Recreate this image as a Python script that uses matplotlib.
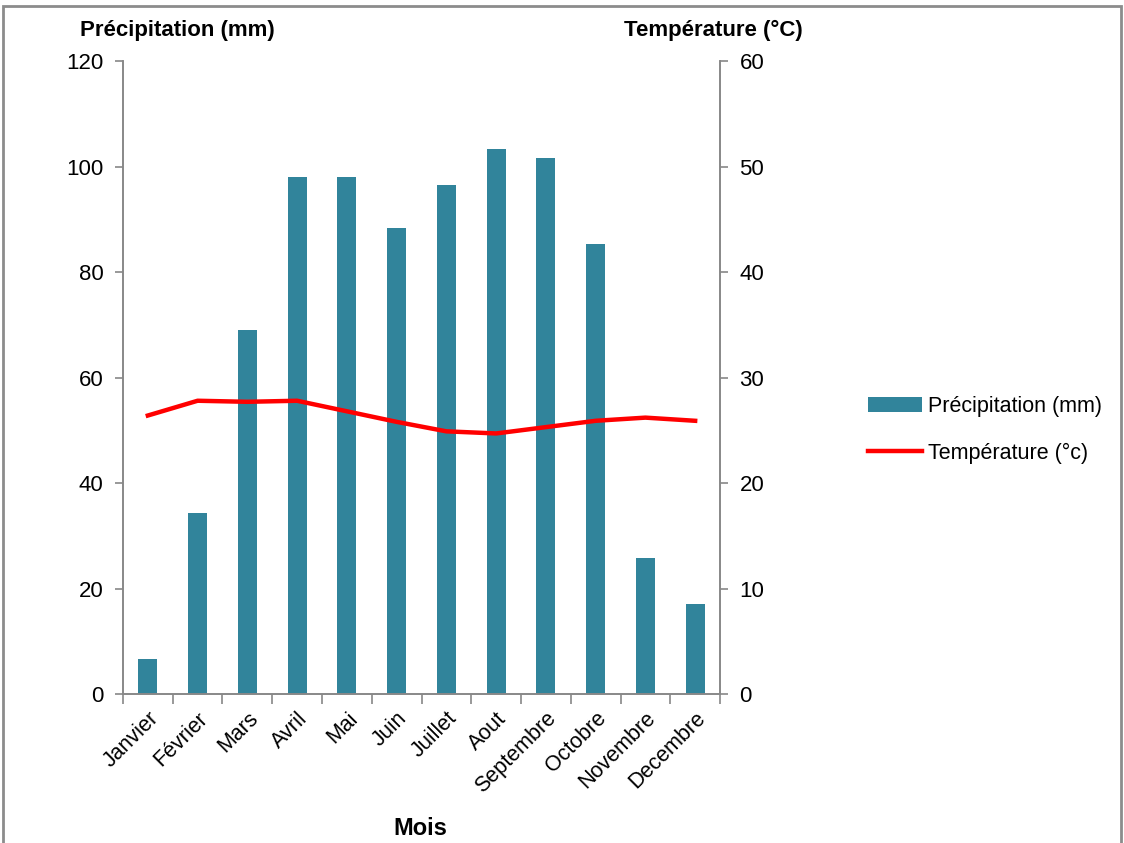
import matplotlib
matplotlib.use("Agg")
import matplotlib.pyplot as plt
from matplotlib.patches import Rectangle
from matplotlib.ticker import FixedLocator, NullFormatter

# data
mois = ['Janvier', 'Février', 'Mars', 'Avril', 'Mai', 'Juin', 'Juillet',
        'Aout', 'Septembre', 'Octobre', 'Novembre', 'Decembre']
precipitation = [6.6, 34.3, 69.0, 98.1, 98.1, 88.4, 96.5, 103.4, 101.6, 85.3, 25.8, 17.1]
temperature = [26.4, 27.8, 27.7, 27.8, 26.8, 25.8, 24.9, 24.7, 25.3, 25.9, 26.2, 25.9]

plt.rcParams['font.family'] = ['Liberation Sans', 'DejaVu Sans']
narrow = ['Liberation Sans Narrow', 'Liberation Sans', 'DejaVu Sans']

bar_color = '#31849B'
axis_gray = '#888888'

fig = plt.figure(figsize=(11.24, 8.43), dpi=100)
ax = fig.add_axes([0.1094, 0.1767, 0.5312, 0.7509])
ax2 = ax.twinx()

x = list(range(len(mois)))
bars = ax.bar(x, precipitation, width=0.38, color=bar_color, label='Précipitation (mm)')
line, = ax2.plot(x, temperature, color='#FF0000', linewidth=3.2, label='Température (°c)')

ax.set_xlim(-0.5, len(mois) - 0.5)
ax.set_ylim(0, 120)
ax.set_yticks([0, 20, 40, 60, 80, 100, 120])
ax2.set_ylim(0, 60)
ax2.set_yticks([0, 10, 20, 30, 40, 50, 60])

# category labels without tick marks, tick marks between categories
ax.set_xticks(x)
ax.set_xticklabels(mois, rotation=45, ha='right', rotation_mode='anchor', fontsize=15.5)
ax.tick_params(axis='x', which='major', length=0, pad=10)
ax.xaxis.set_minor_locator(FixedLocator([i - 0.5 for i in range(len(mois) + 1)]))
ax.xaxis.set_minor_formatter(NullFormatter())
ax.tick_params(axis='x', which='minor', length=7, color=axis_gray, width=1.2)

ax.tick_params(axis='y', labelsize=16, length=6, color=axis_gray, width=1.2, pad=8)
ax2.tick_params(axis='y', labelsize=16, length=6, color=axis_gray, width=1.2, pad=8)

for a in (ax, ax2):
    a.spines['top'].set_visible(False)
    for s in ('left', 'right', 'bottom'):
        a.spines[s].set_color(axis_gray)
        a.spines[s].set_linewidth(1.2)

# axis titles
fig.text(0.158, 0.964, 'Précipitation (mm)', fontsize=16, fontweight='bold',
         family=narrow, ha='center', va='center')
fig.text(0.635, 0.964, 'Température (°C)', fontsize=16, fontweight='bold',
         family=narrow, ha='center', va='center')
fig.text(0.374, 0.017, 'Mois', fontsize=17, fontweight='bold',
         family=narrow, ha='center', va='center')

fig.legend(handles=[bars, line], loc='center left', bbox_to_anchor=(0.755, 0.490),
           frameon=False, fontsize=15.5, handlelength=2.5, handletextpad=0.3,
           labelspacing=1.2)

# chart border
fig.patches.append(Rectangle((0.003, -0.01), 0.994, 1.003, transform=fig.transFigure,
                             fill=False, edgecolor='#8c8c8c', linewidth=2))

fig.savefig('out.png', dpi=100)
